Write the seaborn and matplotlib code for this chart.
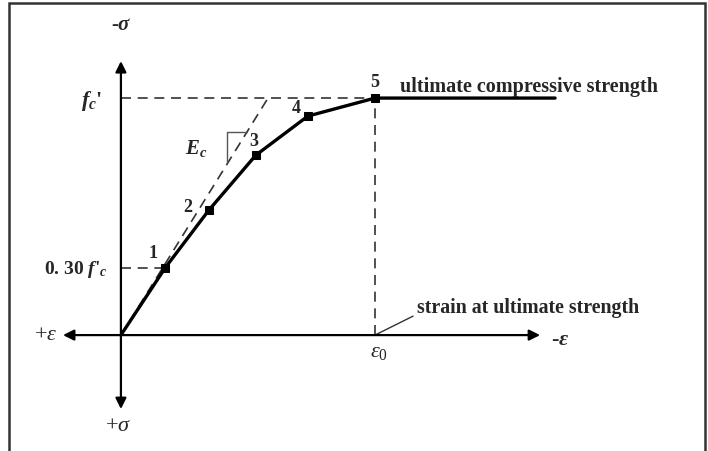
import matplotlib
matplotlib.use("Agg")
import matplotlib.pyplot as plt
import seaborn as sns
import pandas as pd
from matplotlib.patches import Rectangle

sns.set_theme(style="white")
plt.rcParams['font.family'] = ['Liberation Serif', 'DejaVu Serif']
plt.rcParams['mathtext.fontset'] = 'custom'
plt.rcParams['mathtext.rm'] = 'Liberation Serif'
plt.rcParams['mathtext.it'] = 'Liberation Serif:italic'
plt.rcParams['mathtext.bf'] = 'Liberation Serif:bold'
plt.rcParams['mathtext.bfit'] = 'Liberation Serif:italic:bold'

# stress-strain curve (strain / eps0, stress / f'c)
strain = [0.0, 0.175, 0.346, 0.531, 0.736, 1.0, 1.709]
stress = [0.0, 0.285, 0.527, 0.759, 0.924, 1.0, 1.0]
point_labels = ['1', '2', '3', '4', '5']
label_x = [0.126, 0.264, 0.524, 0.689, 1.0]
label_y = [0.350, 0.544, 0.823, 0.962, 1.068]

# initial tangent (E_c)
tangent_x = [0.0, 0.579]
tangent_y = [0.0, 1.0]
slope_tri_x = [0.496, 0.417, 0.417]
slope_tri_y = [0.857, 0.857, 0.730]

# reference levels
fc_level = 1.0
low_level = 0.285
eps0 = 1.0

# axis extents
x_neg, x_pos = -0.228, 1.65
y_neg, y_pos = -0.312, 1.156

df = pd.DataFrame({'strain': strain, 'stress': stress})

fig = plt.figure(figsize=(7.08, 4.52), dpi=100)
ax = fig.add_axes([0, 0, 1, 1])
ax.set_xlim(-0.476, 2.311)
ax.set_ylim(-0.489, 1.418)
ax.axis('off')

# frame around the drawing
fig.patches.append(Rectangle((9 / 708, -0.05), 696 / 708, 1.05 - 4 / 452,
                             transform=fig.transFigure, fill=False,
                             edgecolor='#333333', lw=1.8))

arrow = dict(arrowstyle='-|>', lw=1.6, color='black', mutation_scale=16,
             shrinkA=0, shrinkB=0)
for tip in [(x_pos, 0), (x_neg, 0), (0, y_pos), (0, y_neg)]:
    ax.annotate('', xy=tip, xytext=(0, 0), arrowprops=arrow)

dash = dict(color='#333333', lw=1.2, dashes=(6, 4))
ax.plot([0, eps0], [fc_level, fc_level], **dash)
ax.plot([0, strain[1]], [low_level, low_level], **dash)
ax.plot([eps0, eps0], [0, fc_level], **dash)
ax.plot(tangent_x, tangent_y, **dash)
ax.plot(slope_tri_x, slope_tri_y, color='#555555', lw=1.0)

sns.lineplot(data=df, x='strain', y='stress', ax=ax, color='black', lw=2.4,
             marker='s', markersize=6, markeredgecolor='black', sort=False,
             markevery=[1, 2, 3, 4, 5])

# leader line for eps0
ax.plot([eps0, 1.15], [0, 0.080], color='#333333', lw=1.0)

for t, x, y in zip(point_labels, label_x, label_y):
    ax.text(x, y, t, fontsize=13, fontweight='bold', ha='center', va='center')

ax.text(1.098, 1.051, 'ultimate compressive strength', fontsize=14.5,
        fontweight='bold', ha='left', va='center')
ax.text(1.165, 0.118, 'strain at ultimate strength', fontsize=14.3,
        fontweight='bold', ha='left', va='center')
ax.text(-0.071, 0.99, r"$\mathbfit{f_c}$'", fontsize=16, ha='right', va='center',
        fontweight='bold')
ax.text(-0.051, 0.283, r"0. 30 $\mathbfit{f}$'$_\mathbfit{c}$", fontsize=14,
        ha='right', va='center', fontweight='bold')
ax.text(0.295, 0.793, r"$\mathbfit{E_c}$", fontsize=15, ha='center', va='center')
ax.text(1.016, -0.068, r"$\varepsilon_\mathit{0}$", fontsize=16, ha='center',
        va='center')
ax.text(-0.295, 0.004, r"+$\varepsilon$", fontsize=16, ha='center', va='center')
ax.text(1.728, -0.017, r"-$\mathbfit{\varepsilon}$", fontsize=16, ha='center',
        va='center', fontweight='bold')
ax.text(-0.012, -0.380, r"+$\sigma$", fontsize=16, ha='center', va='center')
ax.text(0.0, 1.312, r"-$\mathbfit{\sigma}$", fontsize=15, ha='center',
        va='center', fontweight='bold')

fig.savefig('out.png', dpi=100)
